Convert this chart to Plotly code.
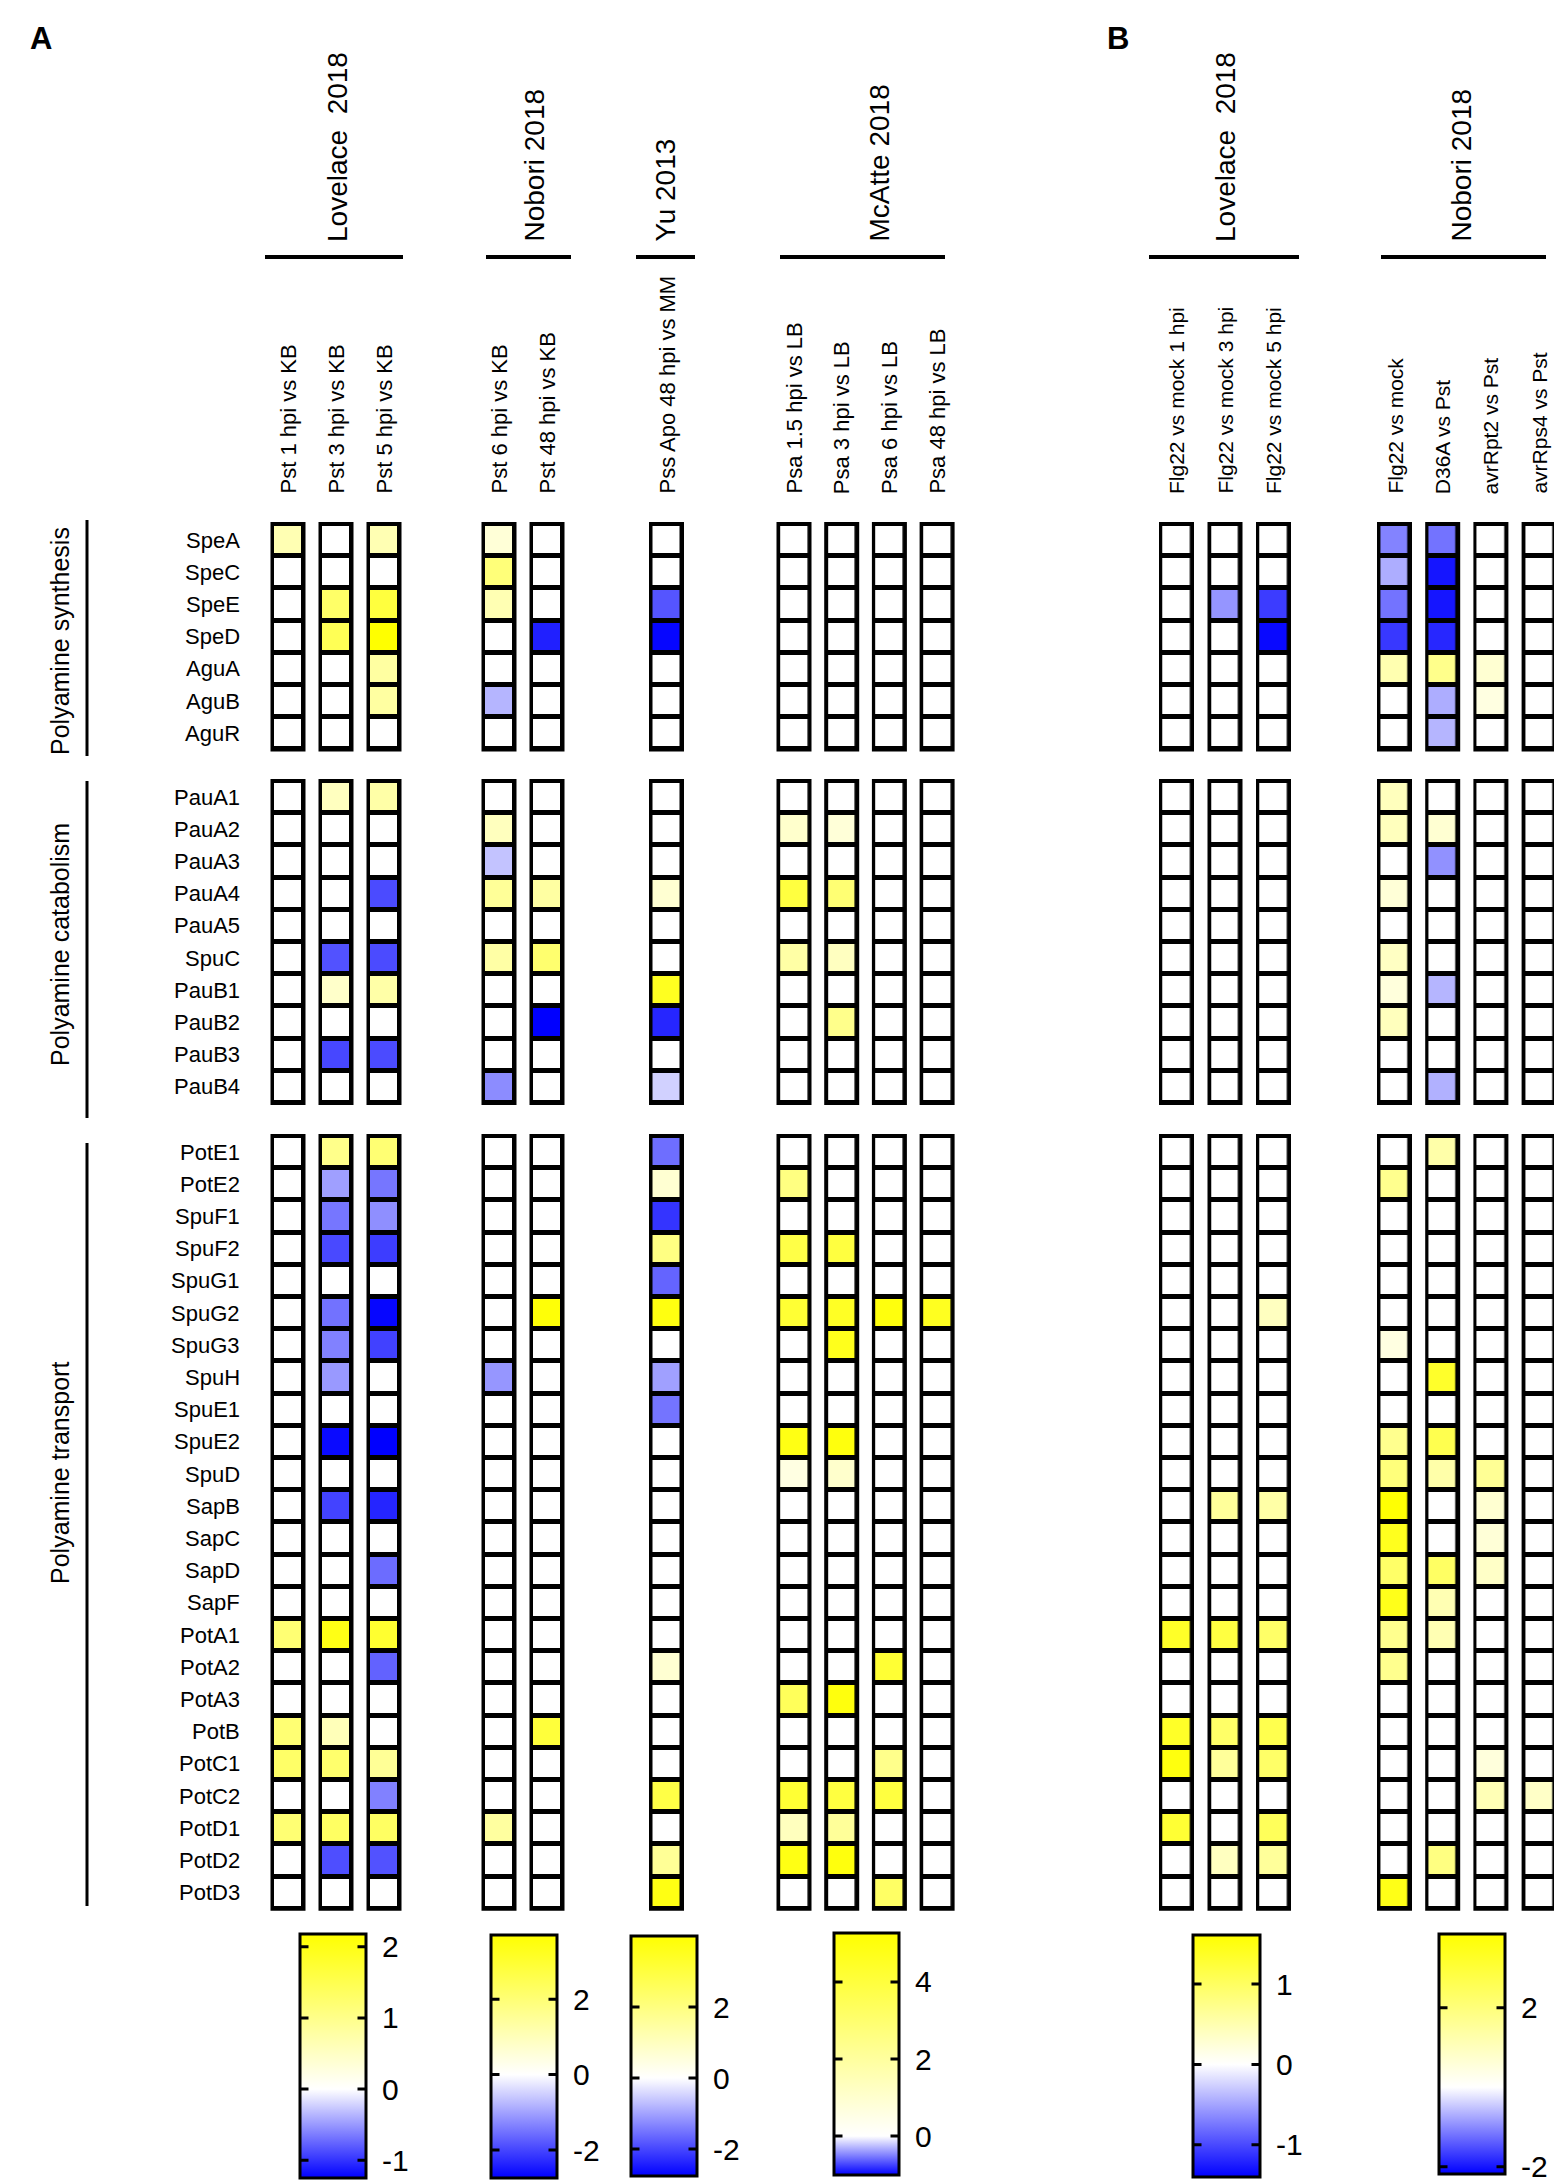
import plotly.graph_objects as go

W, H = 1562, 2183
FONT = "Liberation Sans, Arial, Helvetica, sans-serif"

# ---------------- data ----------------
genes_synthesis = ["SpeA", "SpeC", "SpeE", "SpeD", "AguA", "AguB", "AguR"]
genes_catabolism = ["PauA1", "PauA2", "PauA3", "PauA4", "PauA5", "SpuC",
                    "PauB1", "PauB2", "PauB3", "PauB4"]
genes_transport = ["PotE1", "PotE2", "SpuF1", "SpuF2", "SpuG1", "SpuG2", "SpuG3",
                   "SpuH", "SpuE1", "SpuE2", "SpuD", "SapB", "SapC", "SapD", "SapF",
                   "PotA1", "PotA2", "PotA3", "PotB", "PotC1", "PotC2", "PotD1",
                   "PotD2", "PotD3"]
block_titles = ["Polyamine synthesis", "Polyamine catabolism", "Polyamine transport"]

study_titles = ["Lovelace\u00a0\u00a02018", "Nobori 2018", "Yu 2013", "McAtte 2018",
                "Lovelace\u00a0\u00a02018", "Nobori 2018"]

labels_lovelace_A = ["Pst 1 hpi vs KB", "Pst 3 hpi vs KB", "Pst 5 hpi vs KB"]
labels_nobori_A = ["Pst 6 hpi vs KB", "Pst 48 hpi vs KB"]
labels_yu_A = ["Pss Apo 48 hpi vs MM"]
labels_mcatte_A = ["Psa 1.5 hpi vs LB", "Psa 3 hpi vs LB", "Psa 6 hpi vs LB", "Psa 48 hpi vs LB"]
labels_lovelace_B = ["Flg22 vs mock 1 hpi", "Flg22 vs mock 3 hpi", "Flg22 vs mock 5 hpi"]
labels_nobori_B = ["Flg22 vs mock", "D36A vs Pst", "avrRpt2 vs Pst", "avrRps4 vs Pst"]

# values per column: synthesis(7) | catabolism(10) | transport(24)
lovA_pst1 = [0.65, 0, 0, 0, 0, 0, 0,
             0, 0, 0, 0, 0, 0, 0, 0, 0, 0,
             0, 0, 0, 0, 0, 0, 0, 0, 0, 0, 0, 0, 0, 0, 0,
             1.2, 0, 0, 1.2, 1.3, 0, 1.2, 0, 0]
lovA_pst3 = [0, 0, 1.3, 1.45, 0, 0, 0,
             0.55, 0, 0, 0, 0, -0.85, 0.45, 0, -0.9, 0,
             1.0, -0.47, -0.67, -0.89, 0, -0.69, -0.62, -0.5, 0, -1.2,
             0, -0.92, 0, 0, 0, 2.0, 0, 0, 0.6, 1.26, 0, 1.34, -0.87, 0]
lovA_pst5 = [0.65, 0, 1.65, 2.2, 0.8, 0.8, 0,
             0.75, 0, 0, -0.88, 0, -0.88, 0.75, 0, -0.88, 0,
             1.2, -0.67, -0.55, -0.95, 0, -1.22, -0.93, 0, 0, -1.25,
             0, -1.07, 0, -0.72, 0, 1.77, -0.77, 0, 0, 0.9, -0.62, 1.34, -0.85, 0]

nobA_pst6 = [0.58, 1.95, 1.1, 0, 0, -0.8, 0,
             0, 0.95, -0.65, 1.5, 0, 1.3, 0, 0, 0, -1.24,
             0, 0, 0, 0, 0, 0, 0, -1.13, 0, 0,
             0, 0, 0, 0, 0, 0, 0, 0, 0, 0, 0, 1.4, 0, 0]
nobA_pst48 = [0, 0, 0, -2.4, 0, 0, 0,
              0, 0, 0, 1.35, 0, 2.1, 0, -2.74, 0, 0,
              0, 0, 0, 0, 0, 3.6, 0, 0, 0, 0,
              0, 0, 0, 0, 0, 0, 0, 0, 2.85, 0, 0, 0, 0, 0]

yuA_apo48 = [0, 0, -1.84, -2.7, 0, 0, 0,
             0, 0, 0, 0.7, 0, 0, 3.5, -2.35, 0, -0.5,
             -1.57, 0.7, -2.2, 1.96, -1.68, 3.75, 0, -1.03, -1.5, 0,
             0, 0, 0, 0, 0, 0, 0.7, 0, 0, 0, 2.9, 0, 1.65, 3.7]

mcA_psa1_5 = [0, 0, 0, 0, 0, 0, 0,
              0, 1.05, 0, 3.95, 0, 1.85, 0, 0, 0, 0,
              0, 2.6, 0, 3.8, 0, 4.2, 0, 0, 0, 4.85,
              0.6, 0, 0, 0, 0, 0, 0, 3.4, 0, 0, 4.2, 1.35, 4.85, 0]
mcA_psa3 = [0, 0, 0, 0, 0, 0, 0,
            0, 0.8, 0, 2.9, 0, 1.3, 0, 2.4, 0, 0,
            0, 0, 0, 3.95, 0, 4.5, 4.7, 0, 0, 5.0,
            1.05, 0, 0, 0, 0, 0, 0, 5.0, 0, 0, 3.95, 2.1, 5.0, 0]
mcA_psa6 = [0, 0, 0, 0, 0, 0, 0,
            0, 0, 0, 0, 0, 0, 0, 0, 0, 0,
            0, 0, 0, 0, 0, 5.0, 0, 0, 0, 0,
            0, 0, 0, 0, 0, 0, 4.2, 0, 0, 2.4, 3.95, 0, 0, 3.2]
mcA_psa48 = [0, 0, 0, 0, 0, 0, 0,
             0, 0, 0, 0, 0, 0, 0, 0, 0, 0,
             0, 0, 0, 0, 0, 4.6, 0, 0, 0, 0,
             0, 0, 0, 0, 0, 0, 0, 0, 0, 0, 0, 0, 0, 0]

lovB_flg1 = [0, 0, 0, 0, 0, 0, 0,
             0, 0, 0, 0, 0, 0, 0, 0, 0, 0,
             0, 0, 0, 0, 0, 0, 0, 0, 0, 0,
             0, 0, 0, 0, 0, 1.36, 0, 0, 1.36, 1.52, 0, 1.28, 0, 0]
lovB_flg3 = [0, 0, -0.58, 0, 0, 0, 0,
             0, 0, 0, 0, 0, 0, 0, 0, 0, 0,
             0, 0, 0, 0, 0, 0, 0, 0, 0, 0,
             0, 0.64, 0, 0, 0, 1.2, 0, 0, 0.96, 0.64, 0, 0, 0.4, 0]
lovB_flg5 = [0, 0, -1.07, -1.35, 0, 0, 0,
             0, 0, 0, 0, 0, 0, 0, 0, 0, 0,
             0, 0, 0, 0, 0, 0.4, 0, 0, 0, 0,
             0, 0.56, 0, 0, 0, 0.96, 0, 0, 1.12, 0.96, 0, 1.04, 0.64, 0]

nobB_flg = [-1.06, -0.7, -1.2, -1.7, 1.2, 0, 0,
            1.0, 1.0, 0, 0.6, 0, 0.9, 0.53, 1.0, 0, 0,
            0, 1.7, 0, 0, 0, 0, 0.45, 0, 0, 1.7,
            2.0, 3.8, 3.4, 2.3, 3.45, 1.7, 1.7, 0, 0, 0, 0, 0, 0, 3.5]
nobB_d36a = [-1.2, -2.0, -2.0, -1.85, 1.75, -0.7, -0.63,
             0, 0.68, -0.94, 0, 0, 0, -0.63, 0, 0, -0.67,
             1.3, 0, 0, 0, 0, 0, 0, 3.2, 0, 2.65,
             1.3, 0, 0, 2.35, 1.15, 1.15, 0, 0, 0, 0, 0, 0, 1.9, 0]
nobB_rpt2 = [0, 0, 0, 0, 0.68, 0.45, 0,
             0, 0, 0, 0, 0, 0, 0, 0, 0, 0,
             0, 0, 0, 0, 0, 0, 0, 0, 0, 0,
             1.6, 0.7, 0.6, 0.85, 0, 0, 0, 0, 0, 0.53, 1.1, 0, 0, 0]
nobB_rps4 = [0, 0, 0, 0, 0, 0, 0,
             0, 0, 0, 0, 0, 0, 0, 0, 0, 0,
             0, 0, 0, 0, 0, 0, 0, 0, 0, 0,
             0, 0, 0, 0, 0, 0, 0, 0, 0, 0, 0.85, 0, 0, 0]

# colour-bar ranges and ticks (read from the legends)
cbar_min = [-1.25, -2.74, -2.76, -1.01, -1.40, -2.18]
cbar_max = [2.18, 3.70, 4.00, 5.27, 1.61, 3.85]
cbar_ticks = [[-1, 0, 1, 2], [-2, 0, 2], [-2, 0, 2], [0, 2, 4], [-1, 0, 1], [-2, 2]]

group_columns = [
    [lovA_pst1, lovA_pst3, lovA_pst5],
    [nobA_pst6, nobA_pst48],
    [yuA_apo48],
    [mcA_psa1_5, mcA_psa3, mcA_psa6, mcA_psa48],
    [lovB_flg1, lovB_flg3, lovB_flg5],
    [nobB_flg, nobB_d36a, nobB_rpt2, nobB_rps4],
]
group_labels = [labels_lovelace_A, labels_nobori_A, labels_yu_A, labels_mcatte_A,
                labels_lovelace_B, labels_nobori_B]

# ---------------- layout geometry (pixels) ----------------
ROW_H = 32.2
BLOCK_TOP = [516, 773, 1128]
BLOCK_SIZES = [len(genes_synthesis), len(genes_catabolism), len(genes_transport)]
BLOCK_GENES = [genes_synthesis, genes_catabolism, genes_transport]
COL_W = 35
INNER_W = 27

geom = [
    dict(x0=280.0, pitch=48.0, hx=329, lx=(257, 395), cb=(292, 1926, 244, 66), lfs=22),
    dict(x0=491.0, pitch=48.0, hx=526, lx=(478, 563), cb=(483, 1927, 243, 66), lfs=22),
    dict(x0=658.5, pitch=48.0, hx=657, lx=(628, 687), cb=(623, 1928, 240, 66), lfs=22),
    dict(x0=786.0, pitch=47.7, hx=871, lx=(772, 937), cb=(826, 1925, 242, 65), lfs=22),
    dict(x0=1168.5, pitch=48.5, hx=1217, lx=(1141, 1291), cb=(1185, 1927, 242, 67), lfs=21),
    dict(x0=1386.5, pitch=48.2, hx=1453, lx=(1373, 1538), cb=(1431, 1926, 240, 66), lfs=21),
]

fig = go.Figure()
shapes = []
annotations = []

for g, cols in enumerate(group_columns):
    gm = geom[g]
    ncol = len(cols)
    start = 0
    for b, nrows in enumerate(BLOCK_SIZES):
        z = [[cols[c][start + r] for c in range(ncol)] for r in range(nrows)]
        top = BLOCK_TOP[b]
        fig.add_trace(go.Heatmap(
            z=z, x0=gm["x0"], dx=gm["pitch"], y0=top + ROW_H / 2, dy=ROW_H,
            xgap=gm["pitch"] - INNER_W, ygap=5,
            coloraxis="coloraxis" if g == 0 else f"coloraxis{g + 1}",
            hoverinfo="skip", showscale=(b == 0),
        ))
        for c in range(ncol):
            cx = gm["x0"] + c * gm["pitch"]
            shapes.append(dict(type="rect", xref="x", yref="y", layer="below",
                               x0=cx - COL_W / 2, x1=cx + COL_W / 2,
                               y0=top - 2, y1=top + nrows * ROW_H + 2,
                               fillcolor="black", line=dict(width=0)))
        start += nrows

    # column labels
    for c, lab in enumerate(group_labels[g]):
        cx = gm["x0"] + c * gm["pitch"]
        annotations.append(dict(x=cx, y=488, xref="x", yref="y", text=lab,
                                textangle=-90, xanchor="center", yanchor="bottom",
                                showarrow=False,
                                font=dict(family=FONT, size=gm["lfs"], color="black")))
    # study header
    annotations.append(dict(x=gm["hx"], y=236, xref="x", yref="y", text=study_titles[g],
                            textangle=-90, xanchor="center", yanchor="bottom",
                            showarrow=False, font=dict(family=FONT, size=28, color="black")))
    shapes.append(dict(type="line", xref="x", yref="y", x0=gm["lx"][0], x1=gm["lx"][1],
                       y0=249, y1=249, line=dict(color="black", width=4)))

    # colour axis / colour bar
    cmin, cmax = cbar_min[g], cbar_max[g]
    mid = -cmin / (cmax - cmin)
    cl, ct, clen, cth = gm["cb"]
    ca = dict(
        cmin=cmin, cmax=cmax, cauto=False,
        colorscale=[[0, "rgb(0,0,255)"], [mid, "rgb(255,255,255)"], [1, "rgb(255,255,0)"]],
        colorbar=dict(
            x=cl / W, xanchor="left", xpad=0, y=1 - ct / H, yanchor="top", ypad=0,
            len=clen, lenmode="pixels", thickness=cth, thicknessmode="pixels",
            outlinewidth=3, outlinecolor="black",
            ticks="outside", ticklen=9, tickcolor="rgba(0,0,0,0)",
            tickvals=cbar_ticks[g], ticktext=[str(t) for t in cbar_ticks[g]],
            ticklabeloverflow="allow",
            tickfont=dict(family=FONT, size=30, color="black"),
        ),
    )
    key = "coloraxis" if g == 0 else f"coloraxis{g + 1}"
    fig.layout[key] = ca
    # tick marks on both inner edges of the colour bar
    for t in cbar_ticks[g]:
        ty = ct + (cmax - t) / (cmax - cmin) * clen
        for ex, off in ((cl, 9), (cl + cth, -9)):
            annotations.append(dict(x=ex, y=ty, xref="x", yref="y", text="",
                                    showarrow=True, arrowhead=0, arrowwidth=3,
                                    arrowcolor="black", ax=off, ay=0,
                                    standoff=0, startstandoff=0, borderpad=0))

# row labels
for b, genes in enumerate(BLOCK_GENES):
    for i, gname in enumerate(genes):
        annotations.append(dict(x=234, y=BLOCK_TOP[b] + (i + 0.5) * ROW_H, xref="x", yref="y",
                                text=gname, xanchor="right", yanchor="middle", showarrow=False,
                                font=dict(family=FONT, size=22, color="black")))

# block titles with vertical lines
block_lines = [(512, 748), (773, 1110), (1135, 1898)]
block_text_y = [633, 937, 1465]
for b, title in enumerate(block_titles):
    shapes.append(dict(type="line", xref="x", yref="y", x0=79, x1=79,
                       y0=block_lines[b][0], y1=block_lines[b][1],
                       line=dict(color="black", width=3)))
    annotations.append(dict(x=52, y=block_text_y[b], xref="x", yref="y", text=title,
                            textangle=-90, xanchor="center", yanchor="middle",
                            showarrow=False, font=dict(family=FONT, size=25, color="black")))

# panel letters
for txt, px in (("A", 33), ("B", 1110)):
    annotations.append(dict(x=px, y=30, xref="x", yref="y", text=f"<b>{txt}</b>",
                            xanchor="center", yanchor="middle", showarrow=False,
                            font=dict(family=FONT, size=31, color="black")))

fig.update_layout(
    width=W, height=H, autosize=False,
    margin=dict(l=0, r=0, t=0, b=0, pad=0),
    paper_bgcolor="white", plot_bgcolor="white",
    xaxis=dict(range=[0, W], visible=False, fixedrange=True),
    yaxis=dict(range=[H, 0], visible=False, fixedrange=True),
    shapes=shapes, annotations=annotations, showlegend=False,
)

fig.write_html("out.html")
